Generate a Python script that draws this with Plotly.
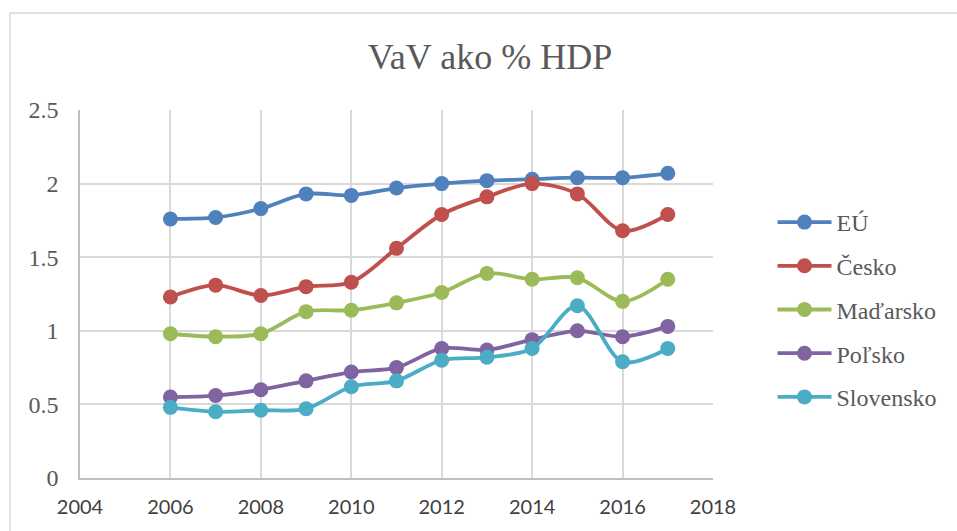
import plotly.graph_objects as go

years = [2006, 2007, 2008, 2009, 2010, 2011, 2012, 2013, 2014, 2015, 2016, 2017]
eu = [1.76, 1.77, 1.83, 1.93, 1.92, 1.97, 2.00, 2.02, 2.03, 2.04, 2.04, 2.07]
cesko = [1.23, 1.31, 1.24, 1.30, 1.33, 1.56, 1.79, 1.91, 2.00, 1.93, 1.68, 1.79]
madarsko = [0.98, 0.96, 0.98, 1.13, 1.14, 1.19, 1.26, 1.39, 1.35, 1.36, 1.20, 1.35]
polsko = [0.55, 0.56, 0.60, 0.66, 0.72, 0.75, 0.88, 0.87, 0.94, 1.00, 0.96, 1.03]
slovensko = [0.48, 0.45, 0.46, 0.47, 0.62, 0.66, 0.80, 0.82, 0.88, 1.17, 0.79, 0.88]

series_names = ["EÚ", "Česko", "Maďarsko", "Poľsko", "Slovensko"]
series_values = [eu, cesko, madarsko, polsko, slovensko]
colors = ["#4F81BD", "#C0504D", "#9BBB59", "#8064A2", "#4BACC6"]

x_ticks = [2004, 2006, 2008, 2010, 2012, 2014, 2016, 2018]
y_ticks = [0, 0.5, 1, 1.5, 2, 2.5]

SERIF = "Liberation Serif"
SANS = "Lato"

fig = go.Figure()
for name, vals, col in zip(series_names, series_values, colors):
    fig.add_trace(go.Scatter(
        x=years, y=vals, name=name, legendgroup=name,
        mode="lines+markers",
        line=dict(color=col, width=3.8, shape="spline", smoothing=0.9),
        marker=dict(color=col, size=15),
    ))

fig.update_layout(
    width=957, height=531,
    margin=dict(l=80, r=244, t=110, b=53, autoexpand=False),
    paper_bgcolor="white", plot_bgcolor="white",
    title=dict(text="VaV ako % HDP", x=(490 - 80) / 633, xref="paper", xanchor="center",
               y=1 - 56 / 531, yref="container", yanchor="middle",
               font=dict(family=SERIF, size=36, color="#595959")),
    xaxis=dict(range=[2004, 2018], tickvals=x_ticks, ticktext=[str(v) for v in x_ticks],
               showgrid=True, gridcolor="#D9D9D9", gridwidth=1.5,
               showline=True, linecolor="#BFBFBF", linewidth=1.5,
               zeroline=False, ticks="", ticklabelstandoff=10, automargin=False,
               tickfont=dict(family=SANS, size=20, color="#404040")),
    yaxis=dict(range=[0, 2.5], tickvals=y_ticks, ticktext=["0", "0.5", "1", "1.5", "2", "2.5"],
               showgrid=True, gridcolor="#D9D9D9", gridwidth=1.5,
               showline=True, linecolor="#BFBFBF", linewidth=1.5,
               zeroline=False, ticks="", ticklabelstandoff=15, automargin=False,
               tickfont=dict(family=SERIF, size=24, color="#595959")),
    legend=dict(x=(772.5 - 80) / 633, xanchor="left", y=(478 - 200) / 368, yanchor="top",
                font=dict(family=SERIF, size=24, color="#595959"),
                itemwidth=54,
                tracegroupgap=9.5, bgcolor="rgba(0,0,0,0)"),
    shapes=[dict(type="rect", xref="paper", yref="paper",
                 x0=(10 - 80) / 633, x1=(975 - 80) / 633,
                 y0=(478 - 545) / 368, y1=(478 - 13) / 368,
                 line=dict(color="#D9D9D9", width=1.5), fillcolor="rgba(0,0,0,0)", layer="below")],
)

fig.write_html("out.html", config={"displayModeBar": False},
               post_script="document.body.style.margin='0';document.body.style.overflow='hidden';")
